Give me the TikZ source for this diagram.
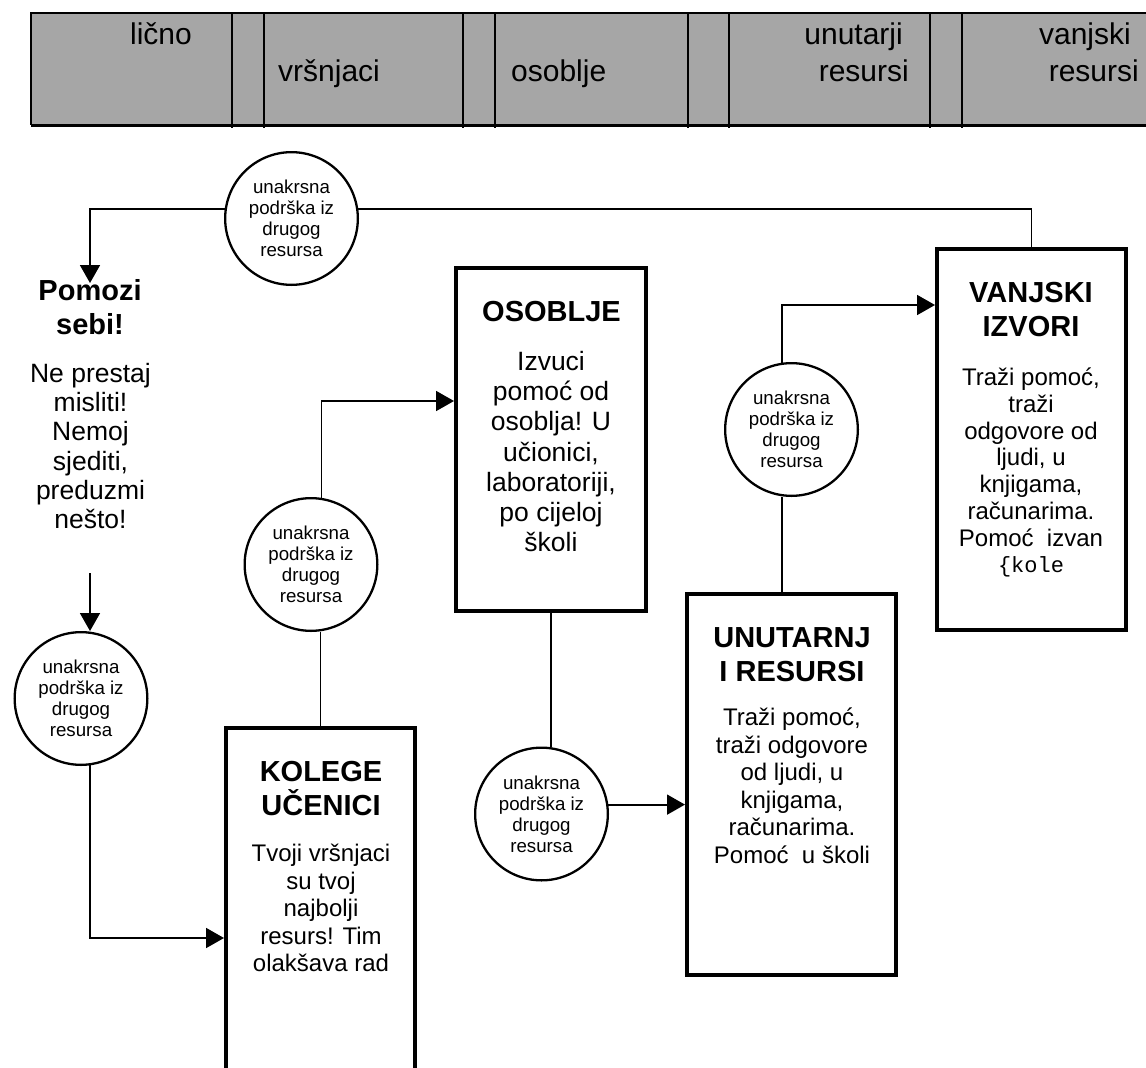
\documentclass[tikz,border=0pt]{standalone}
\usepackage{fontspec}
\setmainfont{Liberation Sans}
\newfontfamily\monofont{Liberation Mono}
\usetikzlibrary{arrows.meta,calc}
\definecolor{hdrgray}{RGB}{166,166,166}
\begin{document}
\begin{tikzpicture}[x=1pt,y=-1pt,
  cyc/.style={circle,draw,line width=2.3pt,minimum size=132.7pt,inner sep=0pt,align=center,font=\fontsize{18.7}{21}\selectfont},
  boxnode/.style={rectangle,draw,line width=4pt,inner sep=0pt},
  htext/.style={align=center,inner sep=0pt,font=\bfseries\fontsize{29}{34}\selectfont},
  btextA/.style={align=center,inner sep=0pt,font=\fontsize{26.5}{29.2}\selectfont},
  btextC/.style={align=center,inner sep=0pt,font=\fontsize{26.5}{30.2}\selectfont},
  btextB/.style={align=center,inner sep=0pt,font=\fontsize{24}{27.5}\selectfont},
  hdr/.style={inner sep=0pt,font=\fontsize{30}{36}\selectfont},
  conn/.style={line width=1.8pt},
  arr/.style={conn,-{Triangle[length=18pt,width=20pt]}}
]
\useasboundingbox (0,0) rectangle (1146,1068);
\clip (0,0) rectangle (1146,1068);

% header band
\fill[hdrgray] (31,13) rectangle (1150,125);
\draw[line width=1.7pt] (1150,13) -- (31,13) -- (31,125);
\draw[line width=3pt] (31,125) -- (1150,125);
\foreach \x in {232,264,463,495,688,729,930,962}
  \draw[line width=1.7pt] (\x,13) -- (\x,128);
\node[hdr,anchor=base east] (hLicno) at (192,44) {lično};
\node[hdr,anchor=base west] (hVrs) at (278,81) {vršnjaci};
\node[hdr,anchor=base west] (hOsob) at (511,81) {osoblje};
\node[hdr,anchor=base east] (hUnu1) at (903,44) {unutarji};
\node[hdr,anchor=base east] (hUnu2) at (909,81) {resursi};
\node[hdr,anchor=base east] (hVan1) at (1131,44) {vanjski};
\node[hdr,anchor=base east] (hVan2) at (1139,81) {resursi};

% circles
\node[cyc] (c1) at (291.5,218.5) {unakrsna\\podrška iz\\drugog\\resursa};
\node[cyc] (c2) at (81,698.5) {unakrsna\\podrška iz\\drugog\\resursa};
\node[cyc] (c3) at (311,564.5) {unakrsna\\podrška iz\\drugog\\resursa};
\node[cyc] (c4) at (541.5,814) {unakrsna\\podrška iz\\drugog\\resursa};
\node[cyc] (c5) at (791.5,429.5) {unakrsna\\podrška iz\\drugog\\resursa};

% boxes
\node[boxnode,minimum width=189pt,minimum height=420pt] (kolege) at (320.5,938) {};
\node[boxnode,minimum width=190pt,minimum height=343pt] (osoblje) at (551,439.5) {};
\node[boxnode,minimum width=209pt,minimum height=381pt] (unutarnj) at (791.5,784.5) {};
\node[boxnode,minimum width=189pt,minimum height=381pt] (vanjski) at (1031.5,439.5) {};

% texts
\node[htext,anchor=north] (pomozi) at (90,279) {Pomozi\\sebi!};
\node[btextA,anchor=north] (pomoziB) at (90.5,363) {Ne prestaj\\misliti!\\Nemoj\\sjediti,\\preduzmi\\nešto!};
\node[htext,anchor=north] (osH) at (551.5,301) {OSOBLJE};
\node[btextC,anchor=north] (osB) at (551,351) {Izvuci\\pomoć od\\osoblja! U\\učionici,\\laboratoriji,\\po cijeloj\\školi};
\node[htext,anchor=north] (koH) at (321,761) {KOLEGE\\UČENICI};
\node[btextB,anchor=north] (koB) at (321,844) {Tvoji vršnjaci\\su tvoj\\najbolji\\resurs! Tim\\olakšava rad};
\node[htext,anchor=north] (unH) at (792,627) {UNUTARNJ\\I RESURSI};
\node[btextB,anchor=north] (unB) at (792,708) {Traži pomoć,\\traži odgovore\\od ljudi, u\\knjigama,\\računarima.\\Pomoć\ \ u školi};
\node[htext,anchor=north] (vaH) at (1031,282) {VANJSKI\\IZVORI};
\node[align=center,inner sep=0pt,anchor=north,font=\fontsize{24}{26.7}\selectfont] (vaB) at (1031,368) {Traži pomoć,\\traži\\odgovore od\\ljudi, u\\knjigama,\\računarima.\\Pomoć\ \ izvan\\{\monofont\fontsize{22}{25}\selectfont\{kole}};

% connectors
\coordinate (a0) at (90,573);
\draw[arr] (c1.172) -| ([yshift=-4pt]pomozi.north);
\draw[conn] (c1.8) -| (vanjski.north);
\draw[arr] (a0) -- (a0 |- c2.north);
\draw[arr] (c2.-82) |- (kolege.west);
\draw[conn] (kolege.north) -- (kolege.north |- c3.south);
\draw[arr] (c3.81) |- ([yshift=38.5pt]osoblje.west);
\draw[conn] (osoblje.south) -- (osoblje.south |- c4.north);
\draw[arr] (c4.8.5) -- (c4.8.5 -| unutarnj.west);
\draw[conn] ([xshift=-9.5pt]unutarnj.north) -- ([xshift=-9.5pt]unutarnj.north |- c5.south);
\draw[arr] (c5.98) |- ([yshift=134.5pt]vanjski.west);
\end{tikzpicture}
\end{document}
